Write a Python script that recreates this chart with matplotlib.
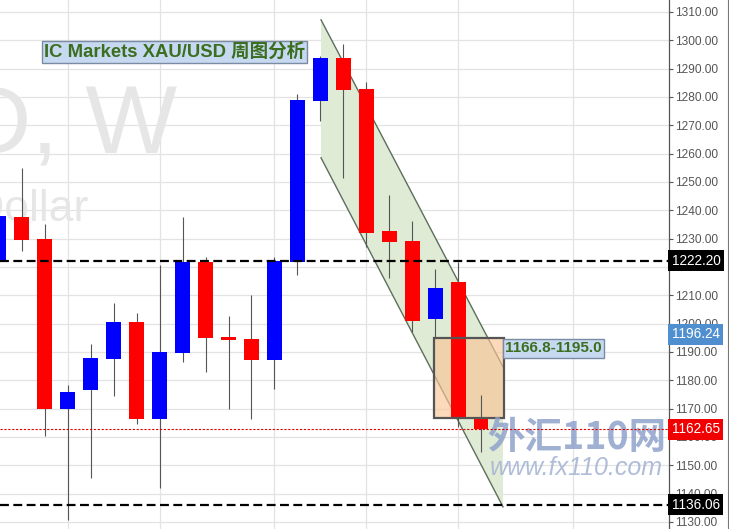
import numpy as np
import matplotlib.pyplot as plt
from matplotlib.patches import Rectangle, Polygon
from matplotlib.transforms import blended_transform_factory

# weekly XAU/USD candles
opens = [1222.0, 1237.6, 1229.9, 1169.9, 1176.6, 1187.5, 1200.6, 1166.3, 1189.6, 1221.8, 1195.3,
         1194.6, 1187.2, 1221.8, 1278.6, 1293.8, 1282.8, 1232.7, 1229.2, 1201.6, 1214.7, 1166.7]
closes = [1238.0, 1229.5, 1169.9, 1175.9, 1187.9, 1200.6, 1166.3, 1190.0, 1221.8, 1194.9, 1194.2,
          1187.2, 1222.0, 1278.9, 1293.8, 1282.5, 1232.0, 1228.8, 1200.9, 1212.6, 1166.3, 1162.65]
highs = [1240.0, 1255.0, 1235.2, 1178.3, 1192.8, 1207.3, 1203.8, 1220.7, 1237.6, 1223.5, 1202.7,
         1210.1, 1223.5, 1281.0, 1294.5, 1298.7, 1285.3, 1245.4, 1236.2, 1219.3, 1221.8, 1174.8]
lows = [1220.0, 1225.6, 1160.3, 1130.7, 1145.5, 1174.4, 1164.6, 1142.0, 1186.5, 1182.9, 1169.9,
        1166.3, 1176.9, 1217.2, 1271.5, 1251.4, 1227.0, 1216.1, 1197.0, 1195.0, 1163.5, 1154.7]

# month separators (candle index)
month_lines = [3, 7, 12, 16, 20, 25]

# levels
resistance = 1222.20
support = 1136.06
last_price = 1162.65
marker_price = 1196.24
zone_low, zone_high = 1166.8, 1195.0
zone_x = [18.95, 22.0]

# falling channel
channel_x = [14.03, 21.96]
channel_upper = [1307.2, 1184.7]
channel_lower = [1258.5, 1135.3]

yticks = np.arange(1130, 1311, 10)

fig = plt.figure(figsize=(7.29, 5.29), dpi=100)
ax = fig.add_axes([0, 0, 669 / 729, 1])
ax.set_xlim(0.044, 29.19)
ax.set_ylim(1127.5, 1314.2)

ax.set_yticks(yticks)
ax.set_yticklabels(["%.2f" % v for v in yticks])
ax.yaxis.tick_right()
ax.tick_params(axis="y", length=3, width=0.8, color="#555555", labelcolor="#555555",
               labelsize=8.6, pad=1.5)
for lab in ax.get_yticklabels():
    lab.set_fontfamily("Liberation Sans")
ax.set_xticks([])
for s in ["left", "top", "bottom"]:
    ax.spines[s].set_visible(False)
ax.spines["right"].set_color("#555555")
ax.spines["right"].set_linewidth(0.9)

# grid
for v in yticks:
    ax.axhline(v, color="#e3e3e3", lw=0.9, zorder=0)
for m in month_lines:
    ax.axvline(m, color="#e3e3e3", lw=0.9, zorder=0)

# watermarks
ax.text(177 / 669, 1 - 152 / 529, "XAUUSD, W", transform=ax.transAxes, ha="right",
        va="baseline", fontsize=70, color="#e6e6e6", family="Liberation Sans", zorder=0.5)
ax.text(88 / 669, 1 - 221 / 529, "Gold Spot / U.S. Dollar", transform=ax.transAxes, ha="right",
        va="baseline", fontsize=32, color="#e6e6e6", family="Liberation Sans", zorder=0.5)

# channel
chan = Polygon([(channel_x[0], channel_upper[0]), (channel_x[1], channel_upper[1]),
                (channel_x[1], channel_lower[1]), (channel_x[0], channel_lower[0])],
               closed=True, facecolor="#dfebd5", edgecolor="none", zorder=1)
ax.add_patch(chan)
ax.plot(channel_x, channel_upper, color="#5d6e5d", lw=1.0, zorder=2)
ax.plot(channel_x, channel_lower, color="#5d6e5d", lw=1.0, zorder=2)

# zone box
ax.add_patch(Rectangle((zone_x[0], zone_low), zone_x[1] - zone_x[0], zone_high - zone_low,
                       facecolor="#f9c596", alpha=0.65, edgecolor="none", zorder=2.2))
ax.add_patch(Rectangle((zone_x[0], zone_low), zone_x[1] - zone_x[0], zone_high - zone_low,
                       facecolor="none", edgecolor="#555555", lw=1.6, zorder=5))

# candles
idx = np.arange(len(opens))
o = np.array(opens)
c = np.array(closes)
colors = np.where(c >= o, "#0000ff", "#ff0000")
ax.vlines(idx, lows, highs, color="#555555", lw=0.8, zorder=3)
ax.bar(idx, np.maximum(np.abs(c - o), 0.9), bottom=np.minimum(o, c), width=0.65,
       color=colors, zorder=4)

# horizontal levels
ax.axhline(resistance, color="black", lw=1.6, ls=(0, (4, 2)), zorder=6)
ax.axhline(support, color="black", lw=1.6, ls=(0, (4, 2)), zorder=6)
ax.axhline(last_price, color="#e00000", lw=0.8, ls=(0, (2, 1.5)), zorder=6)

# site watermark
ax.text(487 / 669, 1 - 437 / 529, "外汇110网", transform=ax.transAxes, ha="left", va="center",
        fontsize=27, fontweight="bold", color="#8ea2cc", alpha=0.85,
        family=["Noto Sans CJK SC", "DejaVu Sans"], zorder=5.5, clip_on=True)
ax.text(490 / 669, 1 - 475 / 529, "www.fx110.com", transform=ax.transAxes, ha="left",
        va="baseline", fontsize=18, style="italic", color="#a8b6d4", alpha=0.9,
        family="Liberation Sans", zorder=5.5, clip_on=True)

# price labels on the axis
tr = blended_transform_factory(ax.transAxes, ax.transData)
for val, bg in [(resistance, "black"), (marker_price, "#4f8fd0"),
                (last_price, "#f00000"), (support, "black")]:
    ax.text(1.004, val, "%.2f" % val, transform=tr, ha="left", va="center", fontsize=9.8,
            color="white", family="Liberation Sans", zorder=10, clip_on=False,
            bbox=dict(boxstyle="square,pad=0.25", facecolor=bg, edgecolor="none"))

# notes
ax.text(22.05, (zone_high + 1187.6) / 2, "1166.8-1195.0", ha="left", va="center",
        fontsize=11, fontweight="bold", color="#3b6e1f", family="Liberation Sans", zorder=9,
        bbox=dict(boxstyle="square,pad=0.15", facecolor="#c6d9f1", edgecolor="#7a8ca3", lw=1))
fig.text(44 / 729, 1 - 52 / 529, "IC Markets XAU/USD 周图分析", ha="left", va="center",
         fontsize=13.3, fontweight="bold", color="#3b6e1f",
         family=["Liberation Sans", "Noto Sans CJK SC"], zorder=9,
         bbox=dict(boxstyle="square,pad=0.12", facecolor="#c6d9f1", edgecolor="#7a8ca3", lw=1))

fig.add_artist(plt.Line2D([0.998, 0.998], [0, 1], transform=fig.transFigure,
                          color="#777777", lw=0.8))

fig.savefig("out.png", dpi=100)
